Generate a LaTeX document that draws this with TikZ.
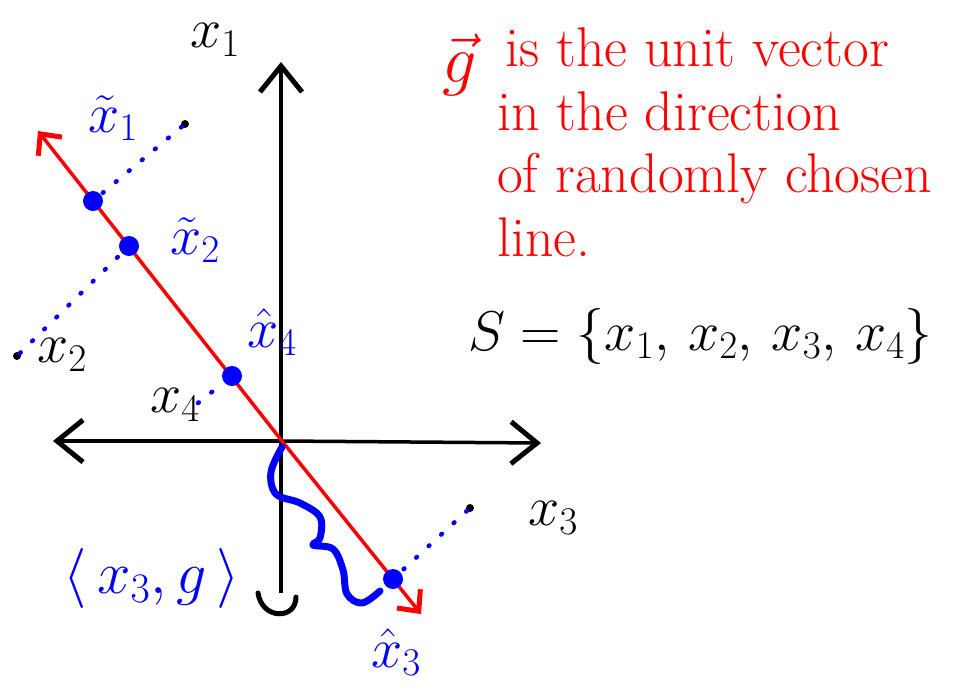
\documentclass[tikz,border=0pt]{standalone}
\usepackage{fix-cm}
\usepackage{amsmath}
\usetikzlibrary{arrows.meta}
\begin{document}
\begin{tikzpicture}[x=1pt,y=-1pt,
  axis/.style={line width=3.5pt, black},
  barb/.style={-{Straight Barb[length=26pt,width=42pt,line width=5pt]}},
  redbarb/.style={-{Straight Barb[length=16pt,width=30pt,line width=5pt]}},
  projline/.style={blue, line width=4.5pt, line cap=round, dash pattern=on 1pt off 16pt},
  pdot/.style={circle, fill=blue, inner sep=0pt, minimum size=20pt},
  datapt/.style={circle, fill=black, inner sep=0pt, minimum size=8pt},
  lbl/.style={font=\fontsize{56}{60}\selectfont, inner sep=0pt},
  note/.style={red, font=\fontsize{56}{64}\selectfont, anchor=base west, inner sep=0pt}]
\useasboundingbox (0,0) rectangle (958,691);

% axes
\coordinate (O) at (282,441);
\coordinate (ytop) at (281,62);
\coordinate (ybot) at (281,593);
\coordinate (xleft) at (53,441);
\coordinate (xright) at (541,443);
\draw[axis, barb] (ybot) -- (ytop);
\draw[axis, barb] (O) -- (xleft);
\draw[axis, barb] (O) -- (xright);
\draw[line width=5pt, line cap=round] (258,593) .. controls (262,620) and (296,620) .. (296,597);

% random line
\coordinate (rtop) at (38,131);
\coordinate (rbot) at (421,614);
\draw[red, line width=3.5pt, redbarb] (O) -- (rtop);
\draw[red, line width=3.5pt, redbarb] (O) -- (rbot);

% data points
\node[datapt] (p1) at (185,124) {};
\node[datapt] (p2) at (17,356) {};
\node[datapt] (p3) at (470,508) {};
\coordinate (p4) at (198,403);

% projections
\node[pdot] (q1) at (93,201) {};
\node[pdot] (q2) at (129,246) {};
\node[pdot] (q4) at (232,376) {};
\node[pdot] (q3) at (393,579) {};

\draw[projline] (p1) -- (q1);
\draw[projline] (p2) -- (q2);
\draw[projline] (p3) -- (q3);
\draw[projline] (p4) -- (q4);

% squiggle
\draw[blue, line width=7pt, line cap=round, line join=round] plot[smooth, tension=0.6] coordinates {(282,447) (271,472) (276,494) (300,503) (320,517) (320,538) (313,545) (333,549) (343,570) (347,594) (362,603) (380,591)};

% labels
\node[lbl] (lx1) at (215,40) {$x_{1}$};
\node[lbl, blue] (lt1) at (113,118) {$\tilde{x}_{1}$};
\node[lbl, blue] (lt2) at (195,240) {$\tilde{x}_{2}$};
\node[lbl] (lx2) at (62,355) {$x_{2}$};
\node[lbl, blue] (lh4) at (272,332) {$\hat{x}_{4}$};
\node[lbl] (lx4) at (175,405) {$x_{4}$};
\node[lbl] (lx3) at (553,518) {$x_{3}$};
\node[lbl, blue, font=\fontsize{60}{64}\selectfont] (lip) at (152,578) {$\langle\, x_{3}, g\,\rangle$};
\node[lbl, blue] (lh3) at (396,652) {$\hat{x}_{3}$};

% notes
\node[red, font=\fontsize{68}{70}\selectfont, anchor=base, inner sep=0pt] (gv) at (460,82) {$\vec{g}$};
\node[note] (n1) at (505,66) {is the unit vector};
\node[note] (n2) at (497,130) {in the direction};
\node[note] (n3) at (497,192) {of randomly chosen};
\node[note] (n4) at (497,256) {line.};
\node[font=\fontsize{56}{60}\selectfont, anchor=base west, inner sep=0pt] (S) at (468,350) {$S=\{x_{1},\,x_{2},\,x_{3},\,x_{4}\}$};
\end{tikzpicture}
\end{document}
